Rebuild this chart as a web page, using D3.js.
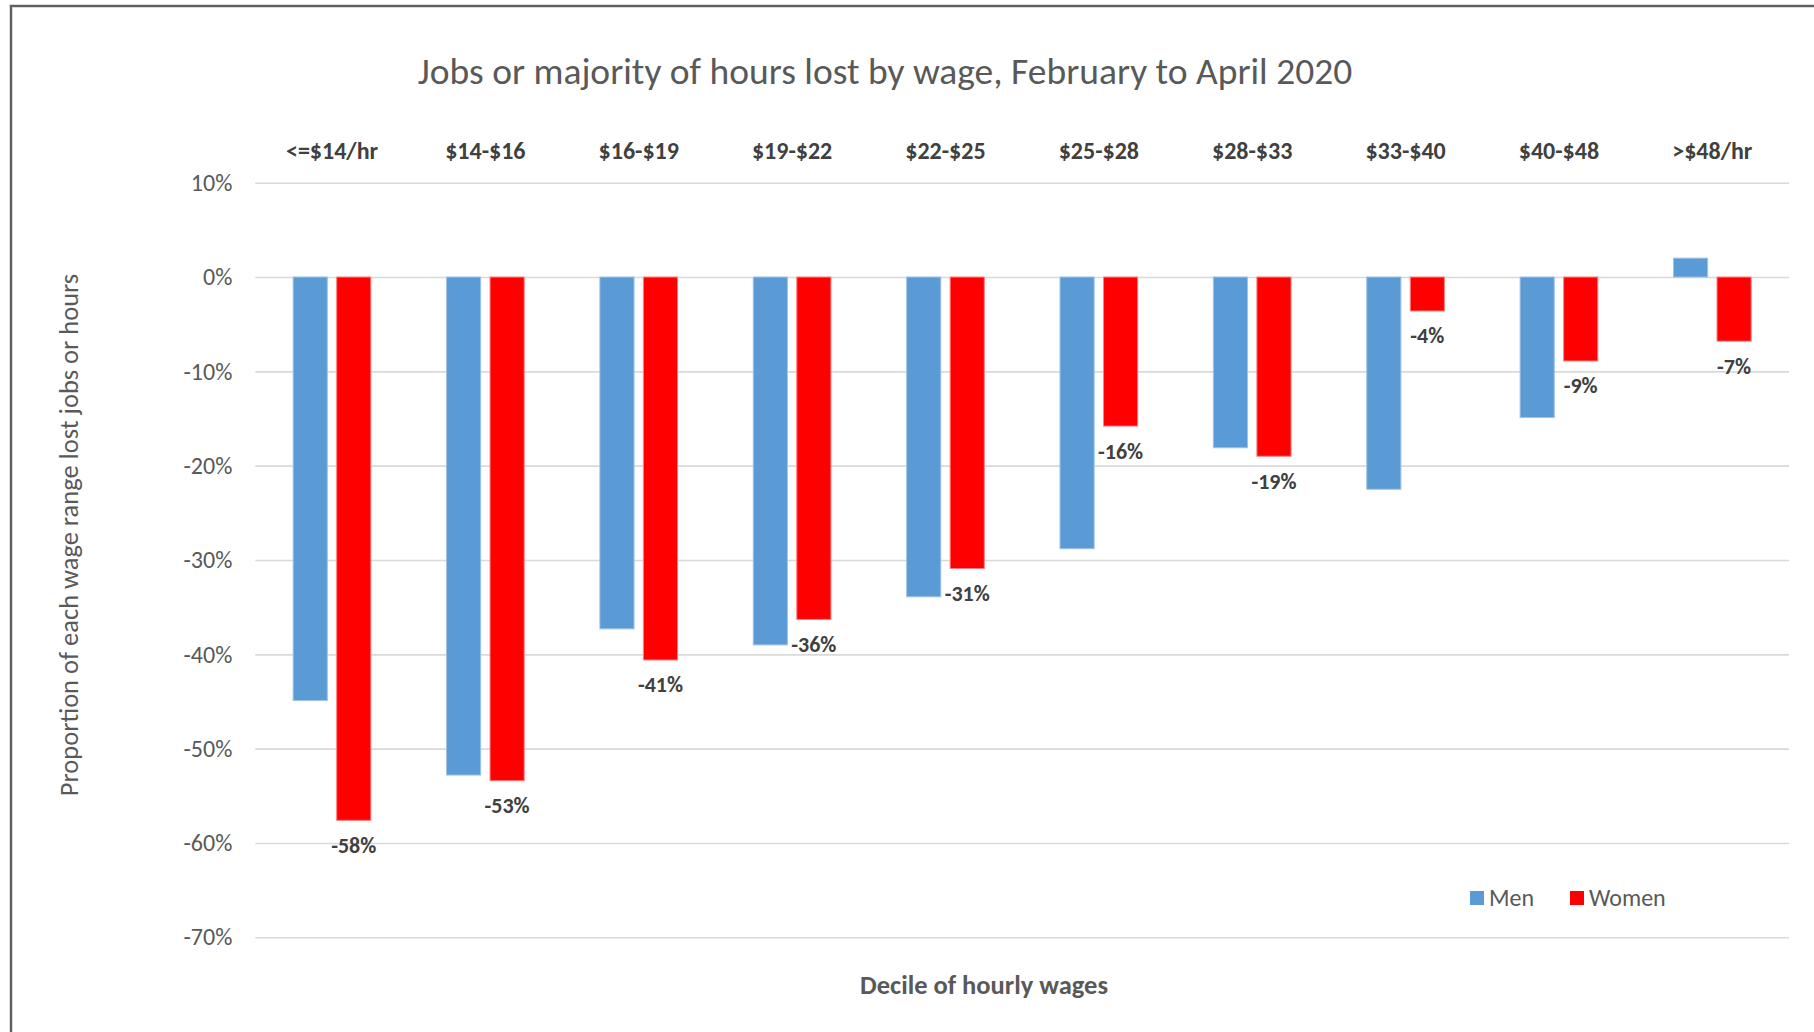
<!DOCTYPE html>
<html>
<head>
<meta charset="utf-8">
<script src="https://cdn.jsdelivr.net/npm/d3@7"></script>
<style>
  html, body { margin: 0; padding: 0; background: #fff; }
  svg { display: block; }
  text { font-family: Carlito, Calibri, Lato, sans-serif; }
</style>
</head>
<body>
<script>
// ---- data ----
const categories = ["<=$14/hr", "$14-$16", "$16-$19", "$19-$22", "$22-$25", "$25-$28", "$28-$33", "$33-$40", "$40-$48", ">$48/hr"];
const seriesNames = ["Men", "Women"];
const menValues   = [-0.449, -0.528, -0.373, -0.390, -0.339, -0.288, -0.181, -0.225, -0.149, 0.020];
const womenValues = [-0.576, -0.534, -0.406, -0.363, -0.309, -0.158, -0.190, -0.036, -0.089, -0.068];
const yTicks = [0.1, 0, -0.1, -0.2, -0.3, -0.4, -0.5, -0.6, -0.7];
const titleText = "Jobs or majority of hours lost by wage, February to April 2020";
const xTitle = "Decile of hourly wages";
const yTitle = "Proportion of each wage range lost jobs or hours";
const colors = { Men: "#5b9bd5", Women: "#ff0000" };

const W = 1814, H = 1032;
const plot = { left: 255.3, right: 1789, top: 182.7, bottom: 937.3 };

const locale = d3.formatLocale({ decimal: ".", thousands: ",", grouping: [3], currency: ["$", ""], minus: "-" });
const pct = locale.format(".0%");

const svg = d3.select("body").append("svg").attr("width", W).attr("height", H);
svg.append("rect").attr("width", W).attr("height", H).attr("fill", "#fff");

// chart frame (extends past right and bottom edges)
svg.append("path").attr("d", `M11,${H + 5} L11,6 L${W + 5},6`)
  .attr("fill", "none").attr("stroke", "#d9d9d9").attr("stroke-width", 4);
svg.append("path").attr("d", `M11,${H + 5} L11,6 L${W + 5},6`)
  .attr("fill", "none").attr("stroke", "#5f5f5f").attr("stroke-width", 2);

const y = d3.scaleLinear().domain([0.1, -0.7]).range([plot.top, plot.bottom]);
const x0 = d3.scaleBand().domain(categories).range([plot.left, plot.right]).paddingInner(0).paddingOuter(0);
const x1 = d3.scaleBand().domain(seriesNames).range([0, x0.bandwidth()]).paddingInner(0.215).paddingOuter(0.87);

// gridlines + y labels
const yAxis = d3.axisLeft(y).tickValues(yTicks).tickFormat(pct)
  .tickSize(-(plot.right - plot.left)).tickPadding(23);
const gy = svg.append("g").attr("transform", `translate(${plot.left},0)`).call(yAxis);
gy.select(".domain").remove();
gy.selectAll(".tick line").attr("stroke", "#d9d9d9").attr("stroke-width", 1.6);
gy.selectAll(".tick text").attr("fill", "#595959").style("font-size", "24px")
  .style("font-family", "Carlito, Calibri, Lato, sans-serif");

// bars
const data = categories.map((c, i) => ({ cat: c, vals: [
  { s: "Men", v: menValues[i] }, { s: "Women", v: womenValues[i] }] }));

const groups = svg.append("g").selectAll("g").data(data).join("g")
  .attr("transform", d => `translate(${x0(d.cat)},0)`);
groups.selectAll("rect").data(d => d.vals).join("rect")
  .attr("x", d => x1(d.s))
  .attr("width", x1.bandwidth())
  .attr("y", d => Math.min(y(d.v), y(0)))
  .attr("height", d => Math.abs(y(d.v) - y(0)))
  .attr("fill", d => colors[d.s])
  .attr("stroke", d => d.s === "Men" ? "#9dc3e6" : "#ff8080")
  .attr("stroke-width", 1);

// data labels for Women
groups.append("text")
  .attr("x", x1("Women") + x1.bandwidth() / 2)
  .attr("y", (d, i) => y(womenValues[i]) + 25)
  .attr("text-anchor", "middle").attr("dominant-baseline", "central")
  .attr("fill", "#404040").style("font-size", "22px").style("font-weight", "bold")
  .text((d, i) => pct(womenValues[i]));

// category labels at top
svg.append("g").selectAll("text").data(categories).join("text")
  .attr("x", d => x0(d) + x0.bandwidth() / 2)
  .attr("y", 150)
  .attr("text-anchor", "middle").attr("dominant-baseline", "central")
  .attr("fill", "#404040").style("font-size", "24px").style("font-weight", "bold")
  .text(d => d);

// title
svg.append("text").attr("x", 885).attr("y", 84)
  .attr("text-anchor", "middle")
  .attr("fill", "#595959").style("font-size", "37.5px")
  .text(titleText);

// x title
svg.append("text").attr("x", 984).attr("y", 985)
  .attr("text-anchor", "middle").attr("dominant-baseline", "central")
  .attr("fill", "#595959").style("font-size", "26.5px").style("font-weight", "bold")
  .text(xTitle);

// y title
svg.append("text").attr("transform", "translate(69,535) rotate(-90)")
  .attr("text-anchor", "middle").attr("dominant-baseline", "central")
  .attr("fill", "#595959").style("font-size", "26.5px")
  .text(yTitle);

// legend
const legendX = [1470, 1570];
const lg = svg.append("g").selectAll("g").data(seriesNames).join("g")
  .attr("transform", (d, i) => `translate(${legendX[i]},891)`);
lg.append("rect").attr("width", 14).attr("height", 14).attr("fill", d => colors[d]);
lg.append("text").attr("x", 19).attr("y", 15)
  .attr("fill", "#595959").style("font-size", "24px").text(d => d);
</script>
</body>
</html>
